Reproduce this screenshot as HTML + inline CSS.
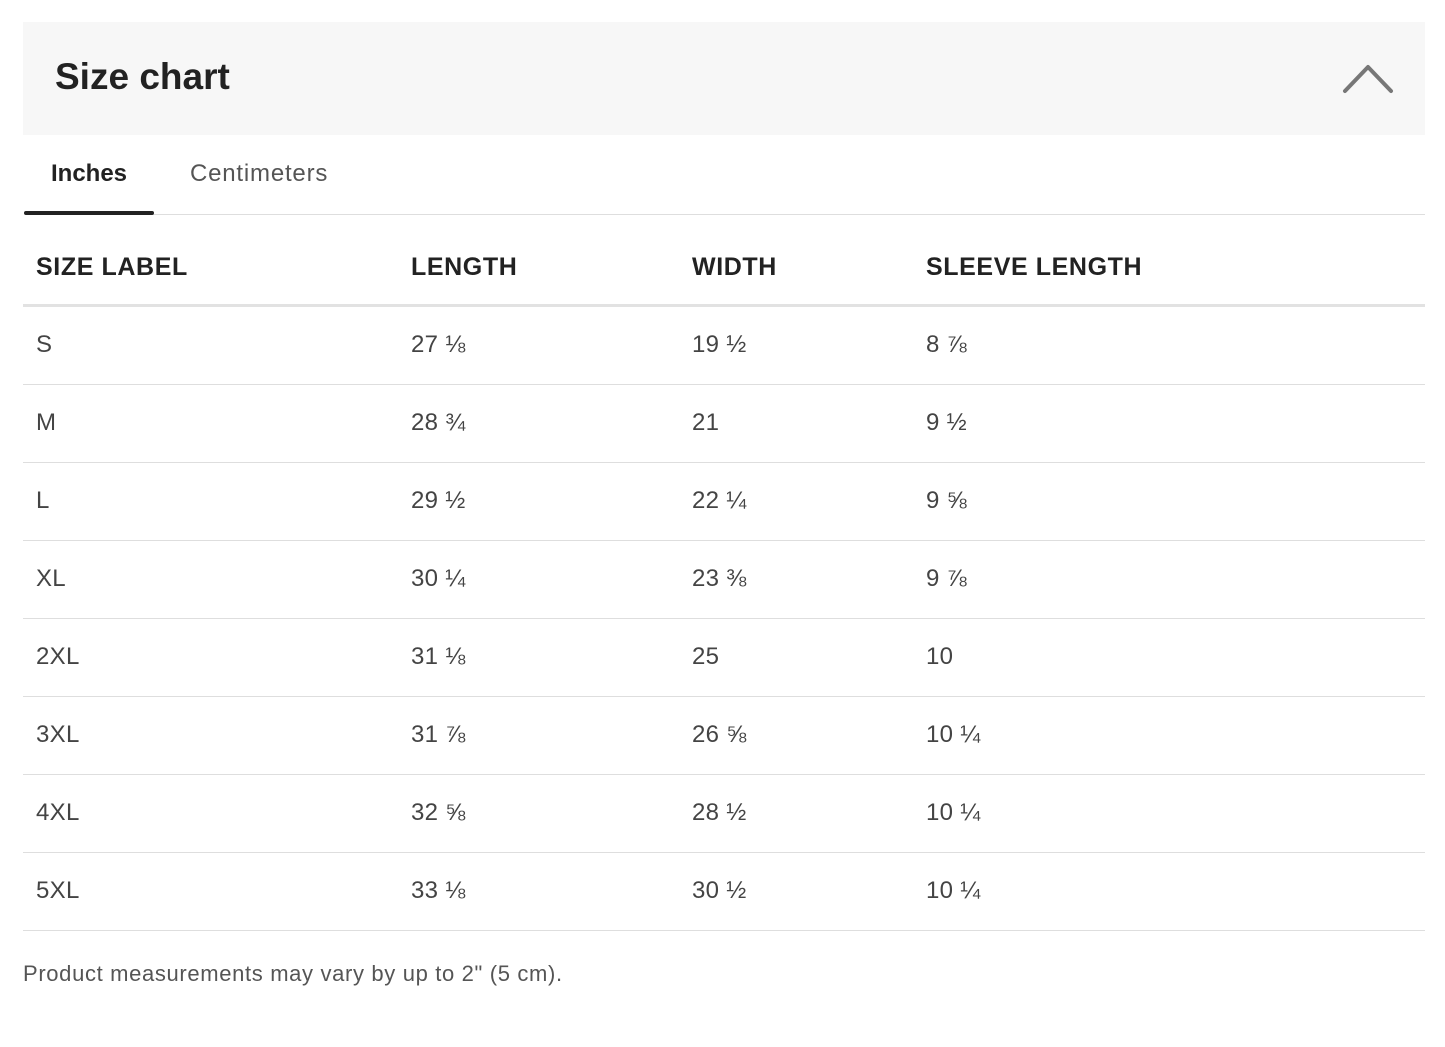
<!DOCTYPE html>
<html><head><meta charset="utf-8"><style>
body{margin:0;width:1445px;height:1047px;background:#fff;font-family:"Liberation Sans",sans-serif;position:relative;overflow:hidden}
.a{position:absolute;white-space:nowrap}
.hdr{left:23px;top:22px;width:1402px;height:113px;background:#f7f7f7}
.title{left:55px;top:57px;font-size:37px;font-weight:bold;color:#222;line-height:40px}
.tab{top:160px;font-size:24px;line-height:28px}
.th{top:253px;font-size:25px;font-weight:bold;color:#222;line-height:28px;letter-spacing:0.6px}
.td{font-size:24px;color:#444;line-height:28px;letter-spacing:0.3px}
.line{left:23px;width:1402px;height:1px;background:#dedede}
</style></head><body>
<div class="a hdr"></div>
<div class="a title">Size chart</div>
<svg class="a" style="left:1340px;top:60px" width="60" height="36"><polyline points="5,31 28,7 51,31" fill="none" stroke="#777" stroke-width="4" stroke-linecap="round" stroke-linejoin="round"/></svg>
<div class="a tab" style="left:51px;font-weight:bold;color:#222">Inches</div>
<div class="a tab" style="left:190px;color:#555;letter-spacing:0.8px">Centimeters</div>
<div class="a line" style="top:214px;left:25px;width:1400px"></div>
<div class="a" style="left:24px;top:211px;width:130px;height:4px;background:#222;border-radius:2px"></div>
<div class="a th" style="left:36px">SIZE LABEL</div>
<div class="a th" style="left:411px">LENGTH</div>
<div class="a th" style="left:692px">WIDTH</div>
<div class="a th" style="left:926px">SLEEVE LENGTH</div>
<div class="a line" style="top:304px;height:3px;background:#e2e2e2"></div>
<div id="rows"></div>
<div class="a" style="left:23px;top:961px;font-size:22px;color:#555;line-height:26px;letter-spacing:0.65px">Product measurements may vary by up to 2" (5 cm).</div>
<script>
var d=[["S","27 ⅛","19 ½","8 ⅞"],["M","28 ¾","21","9 ½"],["L","29 ½","22 ¼","9 ⅝"],["XL","30 ¼","23 ⅜","9 ⅞"],["2XL","31 ⅛","25","10"],["3XL","31 ⅞","26 ⅝","10 ¼"],["4XL","32 ⅝","28 ½","10 ¼"],["5XL","33 ⅛","30 ½","10 ¼"]];
var x=[36,411,692,926],h="";
d.forEach(function(r,i){var t=331+i*78;r.forEach(function(c,j){h+='<div class="a td" style="left:'+x[j]+'px;top:'+t+'px">'+c+'</div>'});h+='<div class="a line" style="top:'+(384+i*78)+'px"></div>'});
document.getElementById("rows").innerHTML=h;
</script>
</body></html>
